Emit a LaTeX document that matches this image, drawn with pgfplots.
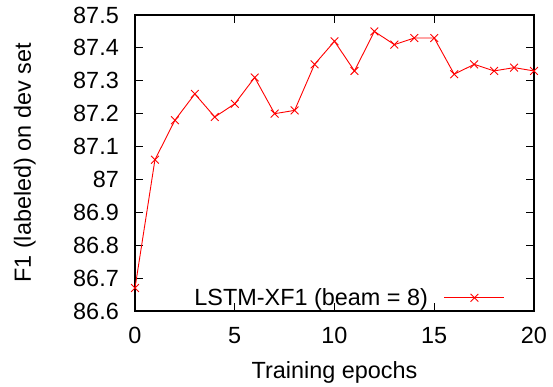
\documentclass[border=0pt]{standalone}
\usepackage{fontspec}
\setmainfont{Liberation Sans}
\usepackage{pgfplots}
\pgfplotsset{compat=1.18}
\begin{document}
\begin{tikzpicture}
\begin{axis}[
  anchor=south west, at={(0,0)},
  width=399bp, height=296bp, scale only axis,
  xmin=0, xmax=20, ymin=86.6, ymax=87.5,
  xtick={0,5,10,15,20},
  ytick={86.6,86.7,86.8,86.9,87,87.1,87.2,87.3,87.4,87.5},
  yticklabels={86.6,86.7,86.8,86.9,87,87.1,87.2,87.3,87.4,87.5},
  /pgf/number format/assume math mode=true,
  tick align=inside, major tick length=8bp,
  axis line style={line width=1.4bp},
  every tick/.style={black, line width=0.9bp},
  tick label style={font=\fontsize{23.5}{28}\selectfont},
  xticklabel style={anchor=base, inner sep=0pt, yshift=-32bp},
  yticklabel style={anchor=east, inner sep=0pt, xshift=-16bp},
  xlabel={Training epochs},
  ylabel={F1 (labeled) on dev set},
  every axis x label/.style={at={(axis description cs:0.5,-0.2264)}, anchor=base, font=\fontsize{23.5}{28}\selectfont},
  every axis y label/.style={at={(axis description cs:-0.2607,0.5)}, anchor=base, rotate=90, font=\fontsize{23.5}{28}\selectfont},
  legend plot pos=right,
  legend style={draw=none, fill=none, font=\fontsize{23.5}{28}\selectfont,
    inner sep=0pt, outer sep=0pt,
    nodes={inner sep=0pt},
    /tikz/every odd column/.append style={column sep=16bp},
    at={(rel axis cs:0.927,0.0135)}, anchor=south east},
  legend image code/.code={\draw[mark repeat=2,mark phase=2,#1] plot coordinates {(0bp,0bp) (30bp,0bp) (60bp,0bp)};},
]
\addplot[red, line width=0.9bp, mark=x, mark size=5.5bp, mark options={line width=0.9bp}] coordinates {
(0,86.67) (1,87.06) (2,87.18) (3,87.26) (4,87.19) (5,87.23) (6,87.31) (7,87.20)
(8,87.21) (9,87.35) (10,87.42) (11,87.33) (12,87.45) (13,87.41) (14,87.43)
(15,87.43) (16,87.32) (17,87.35) (18,87.33) (19,87.34) (20,87.33)
};
\addlegendentry{LSTM-XF1 (beam = 8)}
\end{axis}
\path (-135bp,-75bp) rectangle (418bp,311bp);
\end{tikzpicture}
\end{document}
